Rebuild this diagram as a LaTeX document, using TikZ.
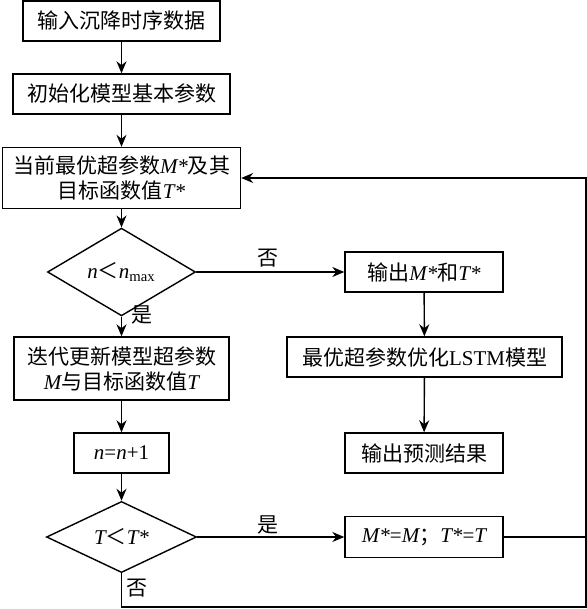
\documentclass[tikz,border=0pt]{standalone}
\usepackage{fontspec}
\setmainfont{Noto Sans CJK SC}
\newfontfamily\tnr{Liberation Serif}
\usetikzlibrary{shapes.geometric,arrows.meta}
\newcommand{\vi}[1]{{\tnr\itshape #1}}
\newcommand{\vr}[1]{{\tnr #1}}
\tikzstyle{box}=[draw,rectangle,inner sep=0pt,minimum height=20pt,align=center]
\tikzstyle{decide}=[draw,diamond,inner sep=0pt,minimum width=74pt,minimum height=31.5pt]
\tikzstyle{lab}=[inner sep=0pt]
\tikzstyle{go}=[-{Stealth[length=6pt,width=5pt]}]

\begin{document}
\begin{tikzpicture}[x=0.5pt,y=-0.5pt,line width=0.7pt,font=\fontsize{10.5pt}{12.5pt}\selectfont]
    \useasboundingbox (0,0) rectangle (587,609);
    % left column
    \node [box,minimum width=98.5pt] (b1) at (121.5,21) {输入沉降时序数据};
    \node [box,minimum width=108.5pt] (b2) at (121.5,94) {初始化模型基本参数};
    \node [box,minimum width=119pt,minimum height=30.5pt] (b3) at (121.5,178)
        {当前最优超参数\vi{M*}及其\\目标函数值\vi{T*}};
    \node [decide] (d1) at (121.5,272) {\vi{n}＜\vi{n}\textsubscript{\vr{max}}};
    \node [box,minimum width=107.5pt,minimum height=31.5pt] (b4) at (121.5,368.5)
        {迭代更新模型超参数\\\vi{M}与目标函数值\vi{T}};
    \node [box,minimum width=47.5pt] (b5) at (121.5,453) {\vi{n}\vr{=}\vi{n}\vr{+1}};
    \node [decide,minimum width=75pt,minimum height=32pt] (d2) at (121.5,537) {\vi{T}＜\vi{T*}};
    % right column
    \node [box,minimum width=79pt] (b6) at (424,272) {输出\vi{M*}和\vi{T*}};
    \node [box,minimum width=137.5pt] (b7) at (424.5,357) {最优超参数优化\vr{LSTM}模型};
    \node [box,minimum width=79pt] (b8) at (424,453) {输出预测结果};
    \node [box,minimum width=79pt,minimum height=20.5pt] (b9) at (424,537)
        {\vi{M*}\vr{=}\vi{M}；\vi{T*}\vr{=}\vi{T}};
    \coordinate (cb) at (586,607);
    % labels
    \node [lab] (no1) at (268,258) {否};
    \node [lab] (yes1) at (142,315) {是};
    \node [lab] (yes2) at (268,525) {是};
    \node [lab] (no2) at (137,588) {否};
    % arrows
    \draw [go] (b1) -- (b2);
    \draw [go] (b2) -- (b3);
    \draw [go] (b3) -- (d1);
    \draw [go] (d1) -- (b4);
    \draw [go] (b4) -- (b5);
    \draw [go] (b5) -- (d2);
    \draw [go] (d1) -- (b6);
    \draw [go] (b6) -- (b7);
    \draw [go] (b7) -- (b8);
    \draw [go] (d2) -- (b9);
    \draw [go] (d2.south) |- (cb) |- (b3.east);
    \draw (b9) -- (b9 -| cb);
\end{tikzpicture}
\end{document}
